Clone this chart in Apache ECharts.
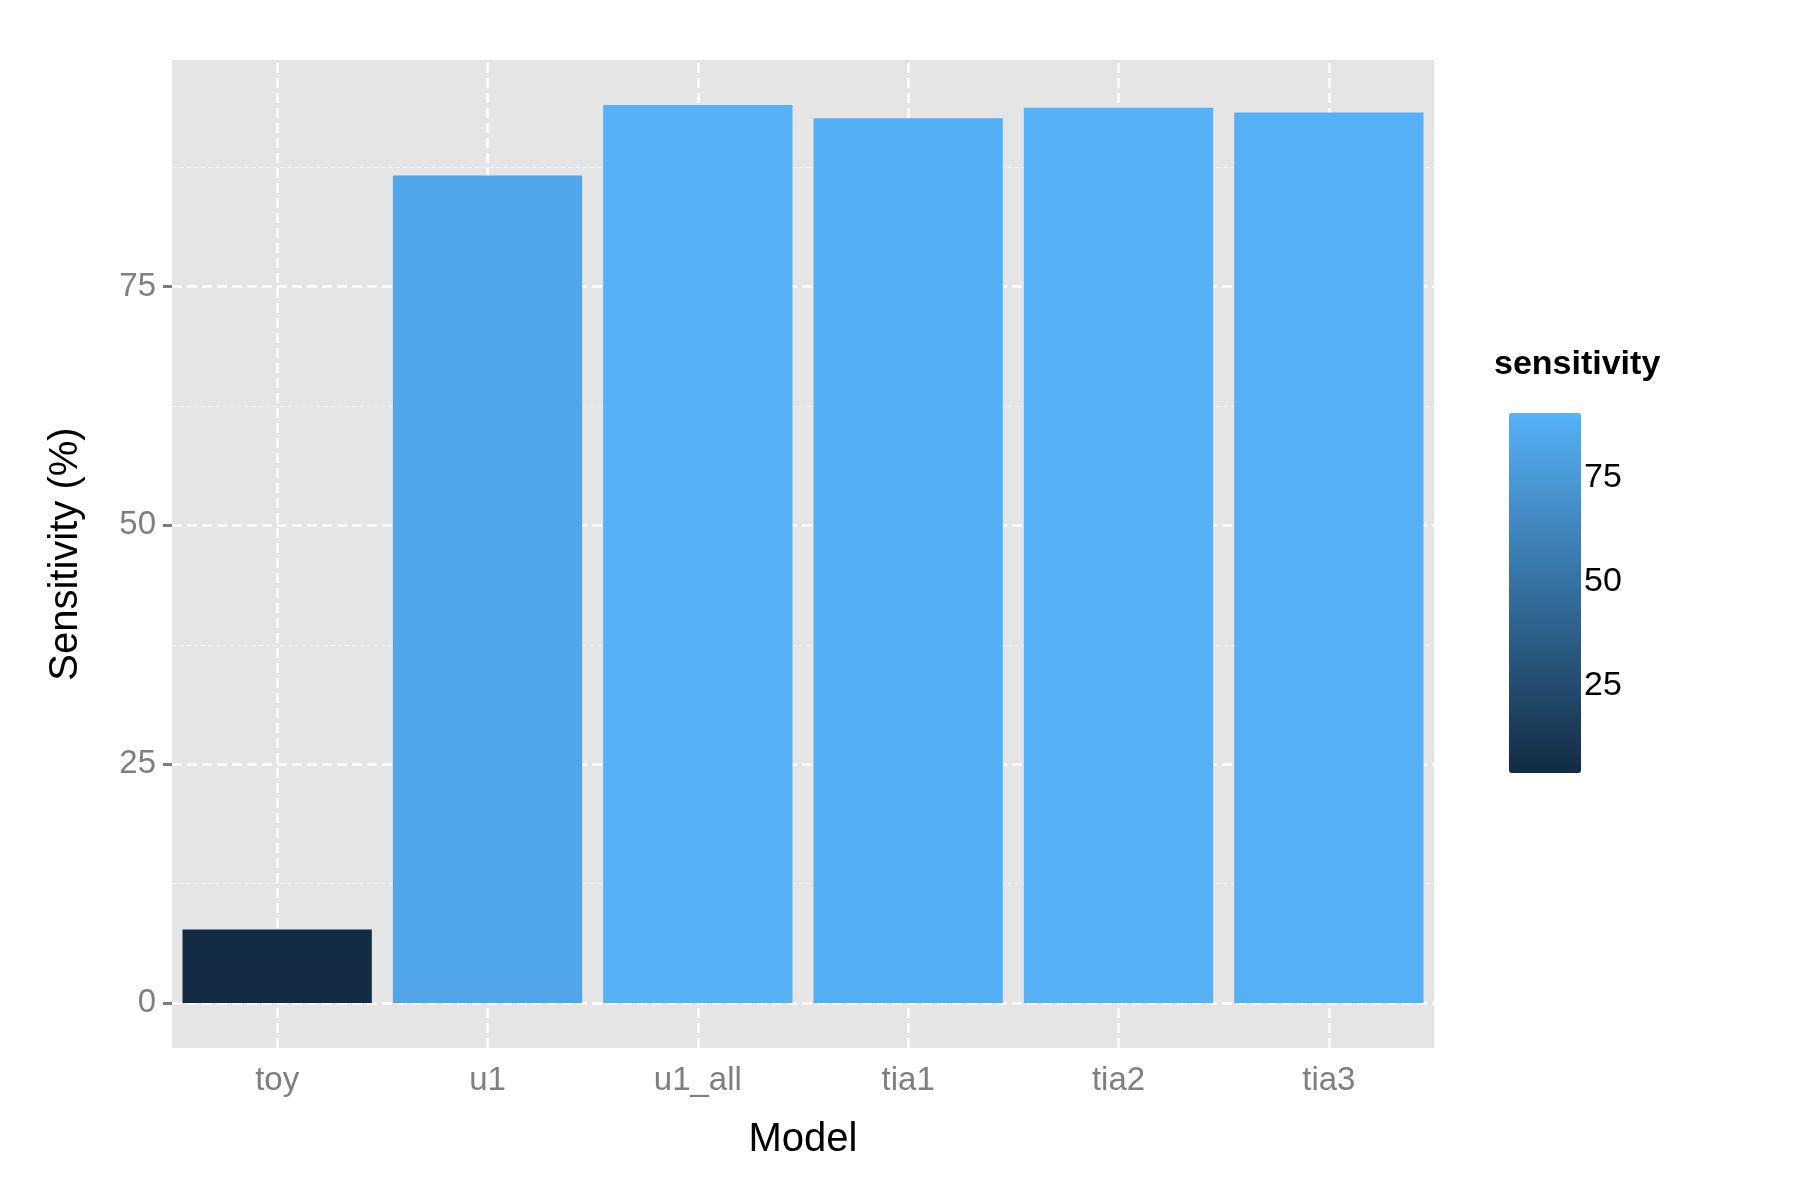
<!DOCTYPE html>
<html>
<head>
<meta charset="utf-8" />
<script src="https://cdn.jsdelivr.net/npm/echarts@6/dist/echarts.min.js"></script>
<style>html,body{margin:0;background:#fff}#c{width:1800px;height:1200px}</style>
</head>
<body>
<div id="c"></div>
<script>
var models = ['toy', 'u1', 'u1_all', 'tia1', 'tia2', 'tia3'];
var sensitivity = [7.7, 86.6, 94.0, 92.6, 93.7, 93.2];
var majorTicks = [0, 25, 50, 75];
var minorTicks = [12.5, 37.5, 62.5, 87.5];
var legendTicks = [25, 50, 75];

var vmin = Math.min.apply(null, sensitivity), vmax = Math.max.apply(null, sensitivity);
var lgTop = 398, lgH = 360, lgLeft = 1494, lgW = 72;

var gridLines = [];
majorTicks.forEach(function (v) { gridLines.push({ yAxis: v, lineStyle: { color: '#fff', width: 2.5 } }); });
minorTicks.forEach(function (v) { gridLines.push({ yAxis: v, lineStyle: { color: '#F2F2F2', width: 1.2 } }); });
models.forEach(function (m) { gridLines.push({ xAxis: m, lineStyle: { color: '#fff', width: 2.5 } }); });

var graphics = [{ type: 'text', left: lgLeft, top: lgTop - 50,
  style: { text: 'sensitivity', font: 'bold 34px "Liberation Sans", Arial', fill: '#000' } }];
legendTicks.forEach(function (v) {
  var y = lgTop + lgH * (vmax - v) / (vmax - vmin);
  graphics.push({ type: 'line', shape: { x1: lgLeft, y1: y, x2: lgLeft + 14, y2: y }, style: { stroke: '#fff', lineWidth: 1.5 } });
  graphics.push({ type: 'line', shape: { x1: lgLeft + lgW - 14, y1: y, x2: lgLeft + lgW, y2: y }, style: { stroke: '#fff', lineWidth: 1.5 } });
  graphics.push({ type: 'text', x: lgLeft + lgW + 18, y: y, style: { text: String(v), font: '34px "Liberation Sans", Arial', fill: '#000', verticalAlign: 'middle' } });
});

var chart = echarts.init(document.getElementById('c'));
chart.setOption({
  animation: false,
  textStyle: { fontFamily: '"Liberation Sans", Arial' },
  grid: { left: 172, right: 366, top: 60, bottom: 152, show: true, backgroundColor: '#E5E5E5', borderWidth: 0 },
  xAxis: {
    type: 'category', data: models,
    name: 'Model', nameLocation: 'middle', nameGap: 72,
    nameTextStyle: { fontSize: 40, color: '#000' },
    axisLine: { show: false },
    axisTick: { alignWithLabel: true, length: 9, lineStyle: { color: '#7F7F7F', width: 3 } },
    axisLabel: { fontSize: 33, color: '#7F7F7F', margin: 16 },
    splitLine: { show: false }
  },
  yAxis: {
    type: 'value', min: -4.7, max: 98.7,
    name: 'Sensitivity (%)', nameLocation: 'middle', nameGap: 86,
    nameTextStyle: { fontSize: 40, color: '#000' },
    axisLine: { show: false },
    axisTick: { show: true, customValues: majorTicks, length: 9, lineStyle: { color: '#7F7F7F', width: 3 } },
    axisLabel: { customValues: majorTicks, fontSize: 33, color: '#7F7F7F', margin: 16 },
    splitLine: { show: false }
  },
  visualMap: {
    type: 'continuous', min: vmin, max: vmax, seriesIndex: 1, dimension: 1,
    calculable: false, text: ['', ''], showLabel: false,
    left: lgLeft, top: lgTop, itemWidth: lgW, itemHeight: lgH,
    inRange: { color: ['#132B43', '#56B1F7'] }
  },
  graphic: graphics,
  series: [
    { type: 'scatter', data: [], z: 1, silent: true,
      markLine: { silent: true, symbol: 'none', label: { show: false }, data: gridLines } },
    { type: 'bar', data: sensitivity, barCategoryGap: '10%', z: 5 }
  ]
});
</script>
</body>
</html>
